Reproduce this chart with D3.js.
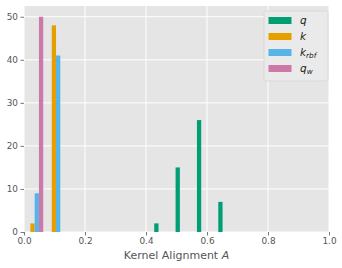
<!DOCTYPE html>
<html>
<head>
<meta charset="utf-8">
<script src="https://cdn.jsdelivr.net/npm/d3@7"></script>
<style>
  body { margin: 0; background: #fff; }
  svg { display: block; font-family: "DejaVu Sans", sans-serif; }
</style>
</head>
<body>
<div id="chart"></div>
<script>
// histogram counts per bin (10 bins from 0.0 to 0.7)
const binEdges = [0.0, 0.07, 0.14, 0.21, 0.28, 0.35, 0.42, 0.49, 0.56, 0.63, 0.70];
const seriesNames = ["q", "k", "krbf", "qw"];
const countsQ    = [0, 0, 0, 0, 0, 0, 2, 15, 26, 7];
const countsK    = [2, 48, 0, 0, 0, 0, 0, 0, 0, 0];
const countsKrbf = [9, 41, 0, 0, 0, 0, 0, 0, 0, 0];
const countsQw   = [50, 0, 0, 0, 0, 0, 0, 0, 0, 0];
const colors = ["#009E73", "#E69F00", "#56B4E9", "#CC79A7"];
const xTicks = [0, 0.2, 0.4, 0.6, 0.8, 1.0];
const yTicks = [0, 10, 20, 30, 40, 50];

const allCounts = [countsQ, countsK, countsKrbf, countsQw];

const width = 342, height = 268;
const margin = { top: 6, right: 13, bottom: 36, left: 24 };

const svg = d3.select("#chart").append("svg")
  .attr("width", width).attr("height", height);

const x = d3.scaleLinear().domain([0, 1]).range([margin.left, width - margin.right]);
const y = d3.scaleLinear().domain([0, 52.5]).range([height - margin.bottom, margin.top]);

// background
svg.append("rect")
  .attr("x", x(0)).attr("y", y(52.5))
  .attr("width", x(1) - x(0)).attr("height", y(0) - y(52.5))
  .attr("fill", "#E5E5E5");

// grid
const grid = svg.append("g").attr("stroke", "#fff").attr("stroke-width", 1);
grid.selectAll("line.v").data(xTicks).join("line")
  .attr("x1", d => x(d)).attr("x2", d => x(d))
  .attr("y1", y(0)).attr("y2", y(52.5));
grid.selectAll("line.h").data(yTicks).join("line")
  .attr("y1", d => y(d)).attr("y2", d => y(d))
  .attr("x1", x(0)).attr("x2", x(1));

// bars: each bin split between series, 80% of bin width used
const bars = svg.append("g");
allCounts.forEach((counts, j) => {
  const rows = counts.map((c, i) => ({ c, x0: binEdges[i], x1: binEdges[i + 1] }))
    .filter(d => d.c > 0);
  bars.append("g").attr("fill", colors[j])
    .selectAll("rect").data(rows).join("rect")
    .attr("x", d => {
      const bw = x(d.x1) - x(d.x0);
      return x(d.x0) + bw * 0.1 + j * bw * 0.8 / 4;
    })
    .attr("width", d => (x(d.x1) - x(d.x0)) * 0.8 / 4)
    .attr("y", d => y(d.c))
    .attr("height", d => y(0) - y(d.c));
});

// axes
const xAxis = svg.append("g")
  .attr("transform", `translate(0,${y(0)})`)
  .call(d3.axisBottom(x).tickValues(xTicks).tickFormat(d3.format(".1f")).tickSize(3.5).tickPadding(2));
const yAxis = svg.append("g")
  .attr("transform", `translate(${x(0)},0)`)
  .call(d3.axisLeft(y).tickValues(yTicks).tickSize(3.5).tickPadding(2.5));
[xAxis, yAxis].forEach(a => {
  a.select(".domain").remove();
  a.selectAll(".tick line").attr("stroke", "#555").attr("stroke-width", 0.8);
  a.selectAll(".tick text").attr("fill", "#555")
    .attr("font-size", 8.9).attr("font-family", "DejaVu Sans");
});

// x label
const xl = svg.append("text")
  .attr("x", (x(0) + x(1)) / 2).attr("y", 259)
  .attr("text-anchor", "middle").attr("fill", "#555")
  .attr("font-size", 11);
xl.append("tspan").text("Kernel Alignment ");
xl.append("tspan").attr("font-style", "italic").text("A");

// legend
const lg = svg.append("g").attr("transform", "translate(264,11)");
lg.append("rect")
  .attr("width", 64).attr("height", 70).attr("rx", 2)
  .attr("fill", "#EAEAEA").attr("stroke", "#D4D4D4").attr("stroke-width", 0.8);
const labels = [
  { base: "q", sub: null },
  { base: "k", sub: null },
  { base: "k", sub: "rbf" },
  { base: "q", sub: "w" }
];
seriesNames.forEach((name, i) => {
  const row = lg.append("g").attr("transform", `translate(0,${9.5 + i * 16})`);
  row.append("rect")
    .attr("x", 4.5).attr("y", -3.5).attr("width", 23).attr("height", 7)
    .attr("fill", colors[i]);
  const t = row.append("text")
    .attr("x", 36).attr("y", 3.5)
    .attr("font-size", 10.5).attr("font-style", "italic").attr("fill", "#222");
  t.append("tspan").text(labels[i].base);
  if (labels[i].sub) {
    t.append("tspan").attr("font-size", 7.3).attr("dy", 2).text(labels[i].sub);
  }
});
</script>
</body>
</html>
